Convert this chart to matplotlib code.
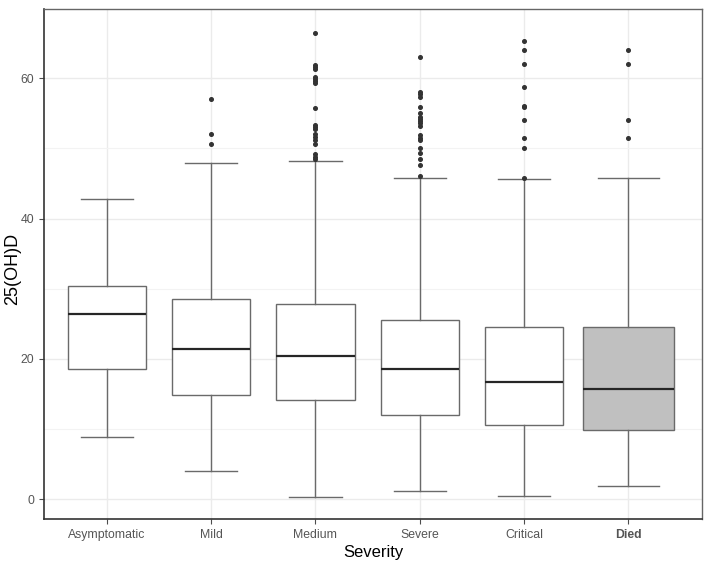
import numpy as np
import matplotlib
matplotlib.use('Agg')
import matplotlib.pyplot as plt

# data
categories = ['Asymptomatic', 'Mild', 'Medium', 'Severe', 'Critical', 'Died']
whisker_low = [8.9, 4.0, 0.3, 1.2, 0.4, 1.9]
q1 = [18.6, 14.9, 14.2, 12.0, 10.6, 9.9]
median = [26.4, 21.4, 20.4, 18.5, 16.7, 15.7]
q3 = [30.4, 28.5, 27.8, 25.5, 24.6, 24.6]
whisker_high = [42.8, 47.9, 48.2, 45.8, 45.6, 45.8]

outliers_asymptomatic = []
outliers_mild = [57.1, 52.0, 50.7]
outliers_medium = [66.5, 61.9, 61.6, 61.3, 60.2, 59.9, 59.6, 59.3, 55.7,
                   53.3, 53.0, 52.7, 52.0, 51.6, 51.2, 50.7, 49.2, 48.8, 48.5]
outliers_severe = [63.1, 58.0, 57.7, 57.4, 55.9, 55.1, 54.5, 54.2, 53.9,
                   53.6, 53.2, 51.9, 51.5, 51.2, 50.1, 49.4, 48.5, 47.7, 46.1]
outliers_critical = [65.3, 64.0, 62.1, 58.7, 56.1, 55.9, 54.1, 51.5, 50.1, 45.8]
outliers_died = [64.0, 62.1, 54.1, 51.5]

all_outliers = [outliers_asymptomatic, outliers_mild, outliers_medium,
                outliers_severe, outliers_critical, outliers_died]

plt.rcParams['font.family'] = ['Liberation Sans', 'DejaVu Sans']

fig = plt.figure(figsize=(7.12, 5.67), dpi=100)
ax = fig.add_axes([0.062, 0.084, 0.924, 0.900])

stats = []
for i, name in enumerate(categories):
    stats.append({
        'label': name,
        'whislo': whisker_low[i],
        'q1': q1[i],
        'med': median[i],
        'q3': q3[i],
        'whishi': whisker_high[i],
        'fliers': all_outliers[i],
    })

positions = np.arange(len(categories))
box_widths = [0.75] * 5 + [0.875]
cap_widths = [0.5] * 5 + [0.59]

line_col = '#6a6a6a'
res = ax.bxp(
    stats, positions=positions, widths=box_widths, capwidths=cap_widths,
    patch_artist=True, showfliers=True,
    boxprops=dict(facecolor='white', edgecolor=line_col, linewidth=1.0),
    whiskerprops=dict(color=line_col, linewidth=1.0),
    capprops=dict(color=line_col, linewidth=1.0),
    medianprops=dict(color='#262626', linewidth=1.6),
    flierprops=dict(marker='o', markersize=2.6, markerfacecolor='#333333',
                    markeredgecolor='#333333', linestyle='none'),
    zorder=3,
)
res['boxes'][-1].set_facecolor('#C0C0C0')

ax.set_xlim(-0.6, 5.705)
ax.set_ylim(-2.86, 69.86)
ax.set_yticks([0, 20, 40, 60])
ax.set_yticks([10, 30, 50], minor=True)
ax.set_xticks(positions)
ax.set_xticklabels(categories)
ax.get_xticklabels()[-1].set_color('black')
ax.get_xticklabels()[-1].set_fontweight('bold')

ax.grid(True, which='major', color='#EBEBEB', linewidth=1.0, zorder=0)
ax.grid(True, which='minor', axis='y', color='#F3F3F3', linewidth=0.8, zorder=0)
ax.set_axisbelow(True)

ax.tick_params(axis='both', which='major', labelsize=8.8, labelcolor='#555555',
               color='#4D4D4D', length=3.5, width=0.8)
ax.tick_params(axis='y', which='minor', length=0)
for side in ['top', 'right']:
    ax.spines[side].set_color('#666666')
    ax.spines[side].set_linewidth(1.0)
for side in ['bottom', 'left']:
    ax.spines[side].set_color('#333333')
    ax.spines[side].set_linewidth(1.2)

ax.set_xlabel('Severity', fontsize=12, labelpad=3)
ax.set_ylabel('25(OH)D', fontsize=13)
ax.yaxis.set_label_coords(-0.035, 0.49)

fig.savefig('out.png', dpi=100)
